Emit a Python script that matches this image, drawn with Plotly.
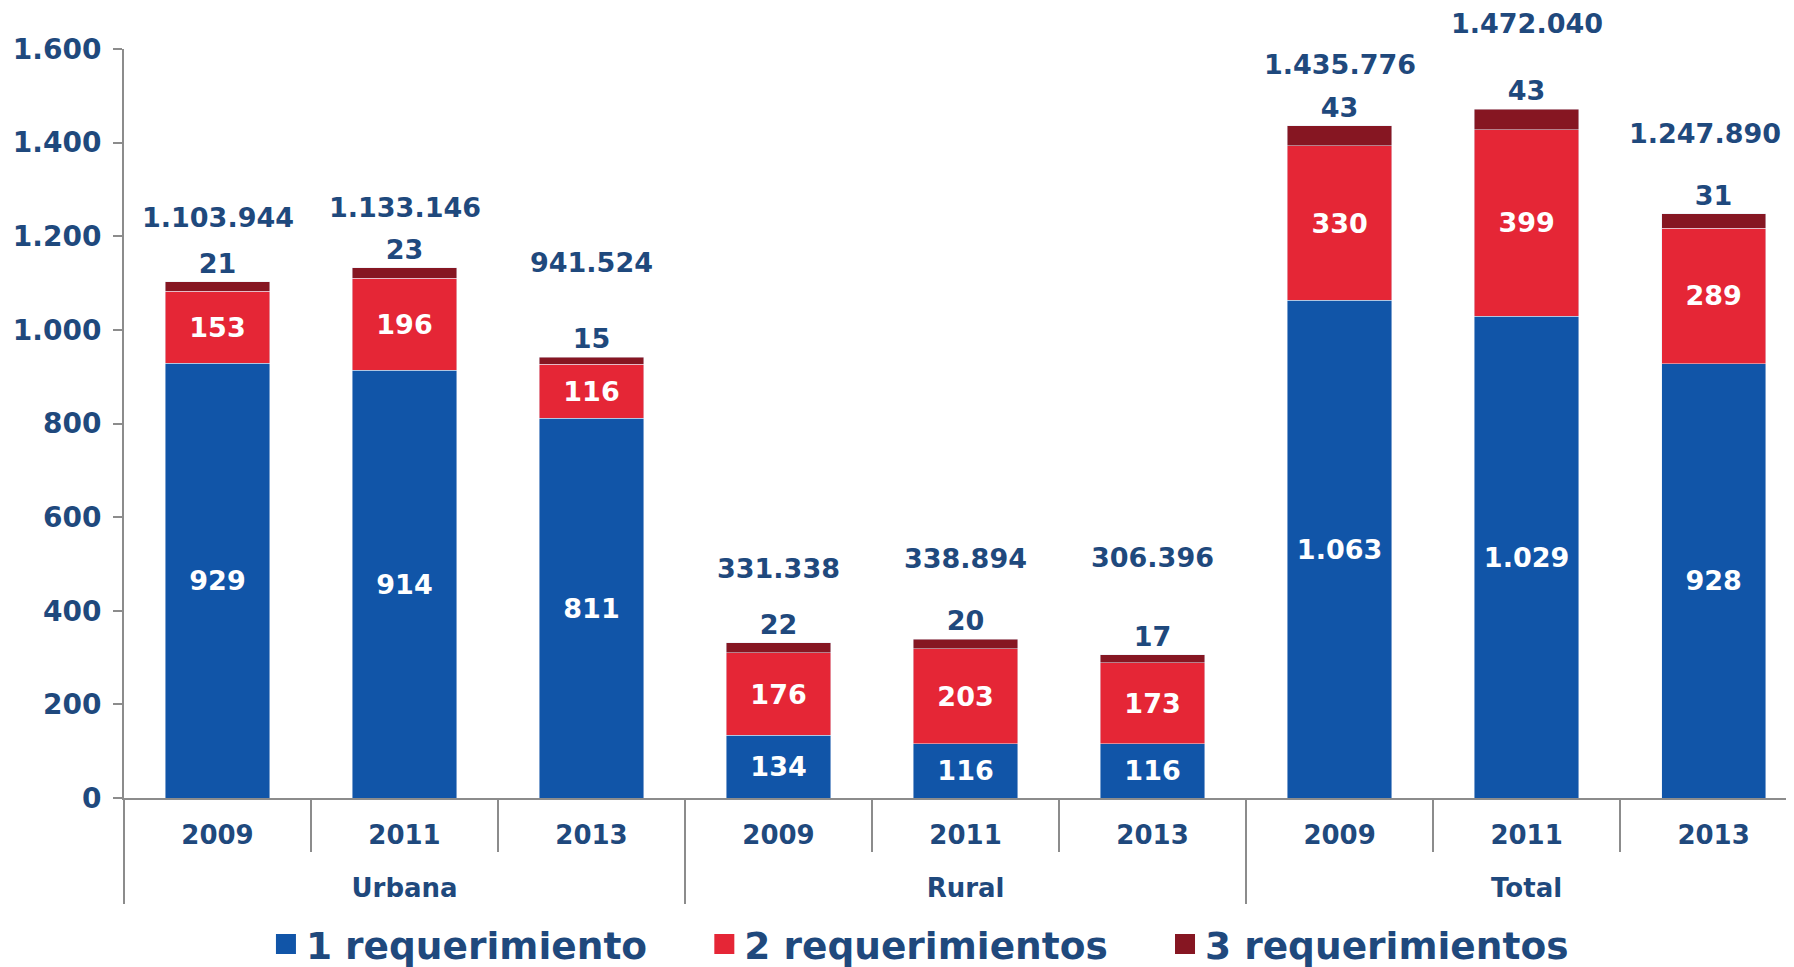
import plotly.graph_objects as go

# Zonas y años (eje X en dos niveles)
zonas = ["Urbana", "Rural", "Total"]
anios = ["2009", "2011", "2013"]

# Valores en miles de hogares
req_1 = [929, 914, 811, 134, 116, 116, 1063, 1029, 928]
req_2 = [153, 196, 116, 176, 203, 173, 330, 399, 289]
req_3 = [21, 23, 15, 22, 20, 17, 43, 43, 31]
totales = [1103944, 1133146, 941524, 331338, 338894, 306396, 1435776, 1472040, 1247890]

series = ["1 requerimiento", "2 requerimientos", "3 requerimientos"]
y_ticks = [0, 200, 400, 600, 800, 1000, 1200, 1400, 1600]

AZUL_TXT = "#1F497D"
GRIS = "#8C8C8C"
FONT = "DejaVu Sans"
COLORES = ["#1155A8", "#E52636", "#861622"]

x_multi = [["<br>" + z for z in zonas for _ in anios], [a for _ in zonas for a in anios]]

fig = go.Figure()
for k, valores in enumerate([req_1, req_2, req_3]):
    arriba = k == 2
    fig.add_trace(go.Bar(
        x=x_multi, y=valores, name=series[k], showlegend=False,
        marker_color=COLORES[k],
        texttemplate="%{y:,.0f}",
        textposition="outside" if arriba else "inside",
        insidetextanchor="middle", textangle=0, cliponaxis=False,
        textfont=dict(color=AZUL_TXT if arriba else "white", size=27,
                      family=FONT, weight="bold"),
    ))

# entradas de leyenda con cuadros grandes
for k, nombre in enumerate(series):
    relleno = "\u00a0" * 4 if k < 2 else ""
    fig.add_trace(go.Scatter(
        x=[None], y=[None], mode="markers", name=nombre + relleno,
        marker=dict(symbol="square", size=16, color=COLORES[k],
                    line=dict(color=COLORES[k], width=4)),
    ))

# desplazamiento (px) de la etiqueta del total respecto a la cima de la barra
gap_total = [64, 60, 95, 74, 81, 97, 61, 86, 80]
corr_x = [0, 0, 0, 0, 0, 0, 0, 0, -9]
for i, t in enumerate(totales):
    tope = req_1[i] + req_2[i] + req_3[i]
    etiqueta = f"{t:,}".replace(",", ".")
    fig.add_annotation(
        x=i, y=tope, text=etiqueta, showarrow=False,
        yanchor="middle", yshift=gap_total[i], xshift=corr_x[i],
        font=dict(color=AZUL_TXT, size=27, family=FONT, weight="bold"),
    )

fig.update_layout(
    width=1794, height=995,
    barmode="stack", bargap=0.443,
    separators=",.",
    paper_bgcolor="white", plot_bgcolor="white",
    margin=dict(l=116, r=8, t=41, b=205),
    font=dict(family=FONT, color=AZUL_TXT),
    showlegend=True,
    legend=dict(
        orientation="h", x=0.085, xanchor="left", y=-0.195, yanchor="middle",
        font=dict(size=37.5, color=AZUL_TXT, family=FONT, weight="bold"),
        itemwidth=30, traceorder="normal",
    ),
    xaxis=dict(
        type="multicategory", range=[-0.5, 8.43], automargin=False,
        showline=True, linecolor=GRIS, linewidth=2,
        ticks="outside", ticklen=52, tickcolor=GRIS, tickwidth=1.5,
        ticklabelstandoff=13,
        showdividers=True, dividercolor=GRIS, dividerwidth=1.5,
        tickfont=dict(size=26, color=AZUL_TXT, family=FONT, weight="bold"),
        showgrid=False,
    ),
    yaxis=dict(
        range=[0, 1600], tickvals=y_ticks, tickformat=",.0f", automargin=False,
        showline=True, linecolor=GRIS, linewidth=2,
        ticks="outside", ticklen=9, tickcolor=GRIS, tickwidth=2,
        ticklabelstandoff=6,
        tickfont=dict(size=28, color=AZUL_TXT, family=FONT, weight="bold"),
        showgrid=False, zeroline=False,
    ),
)

fig.write_html("out.html")
